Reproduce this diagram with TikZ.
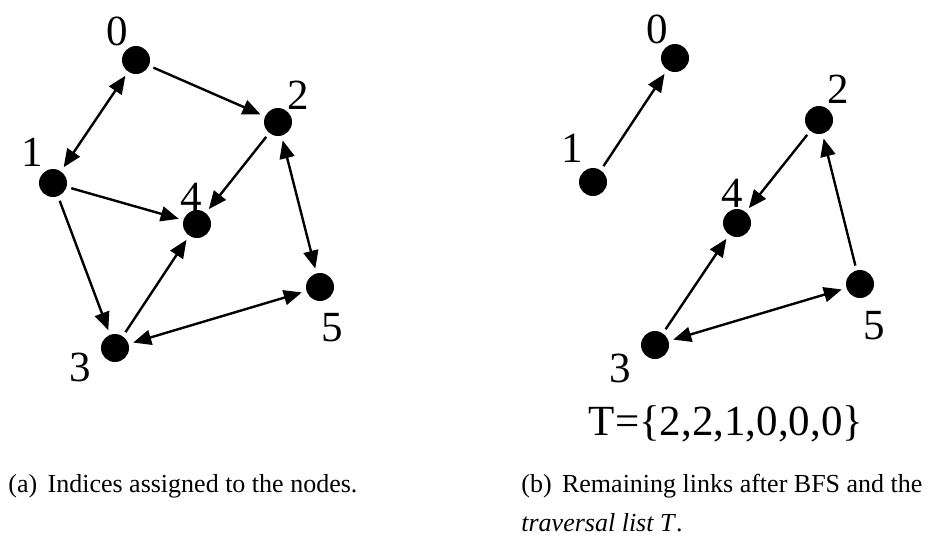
\documentclass[tikz,border=0pt]{standalone}
\usepackage{fontspec}
\setmainfont{Liberation Serif}
\usetikzlibrary{arrows.meta}
\begin{document}
\begin{tikzpicture}[x=0.5pt,y=-0.5pt,
  vtx/.style={circle,fill=black,inner sep=0pt,minimum size=14pt,outer sep=2.5pt},
  lbl/.style={inner sep=0pt,font=\fontsize{21.5}{25}\selectfont},
  captext/.style={inner sep=0pt,anchor=base west,font=\fontsize{13}{15}\selectfont},
  tip/.style={Triangle[length=9pt,width=7.5pt]},
  arr/.style={line width=1.2pt,-{Triangle[length=9pt,width=7.5pt]}},
  biarr/.style={line width=1.2pt,{Triangle[length=9pt,width=7.5pt]}-{Triangle[length=9pt,width=7.5pt]}}]
\useasboundingbox (0,0) rectangle (936,538);
% ---------- left graph ----------
\node[vtx] (a0) at (136,60) {};
\node[vtx] (a1) at (53,183) {};
\node[vtx] (a2) at (278,122) {};
\node[vtx] (a3) at (115,348) {};
\node[vtx] (a4) at (197,224) {};
\node[vtx] (a5) at (320,287) {};
\node[lbl] (la0) at (117,31) {0};
\node[lbl] (la1) at (32,152) {1};
\node[lbl] (la2) at (298,95) {2};
\node[lbl] (la3) at (80,367) {3};
\node[lbl] (la4) at (191,197) {4};
\node[lbl] (la5) at (332,328) {5};
\draw[biarr] (a0) -- (a1);
\draw[arr] (a0) -- (a2);
\draw[arr] (a1) -- (a4);
\draw[arr] (a1) -- (a3);
\draw[arr] (a2) -- (a4);
\draw[biarr] (a2) -- (a5);
\draw[arr] (a3) -- (a4);
\draw[biarr] (a3) -- (a5);
% ---------- right graph ----------
\node[vtx] (b0) at (675,58) {};
\node[vtx] (b1) at (593,182) {};
\node[vtx] (b2) at (819,120) {};
\node[vtx] (b3) at (655,345) {};
\node[vtx] (b4) at (737,223) {};
\node[vtx] (b5) at (860,284) {};
\node[lbl] (lb0) at (657,29) {0};
\node[lbl] (lb1) at (572,148) {1};
\node[lbl] (lb2) at (838,89) {2};
\node[lbl] (lb3) at (620,368) {3};
\node[lbl] (lb4) at (732,193) {4};
\node[lbl] (lb5) at (874,326) {5};
\draw[arr] (b1) -- (b0);
\draw[arr] (b2) -- (b4);
\draw[arr] (b5) -- (b2);
\draw[arr] (b3) -- (b4);
\draw[biarr] (b3) -- (b5);
\node[lbl,anchor=base] (tlist) at (726,435) {T=\{2,2,1,0,0,0\}};
% ---------- captions ----------
\node[captext] (capa) at (8,492) {(a)\hspace{0.4em}Indices assigned to the nodes.};
\node[captext] (capb) at (521,492) {(b)\hspace{0.4em}Remaining links after BFS and the};
\node[captext] (capc) at (521,531) {\textit{traversal list T\/}.};
\end{tikzpicture}
\end{document}
